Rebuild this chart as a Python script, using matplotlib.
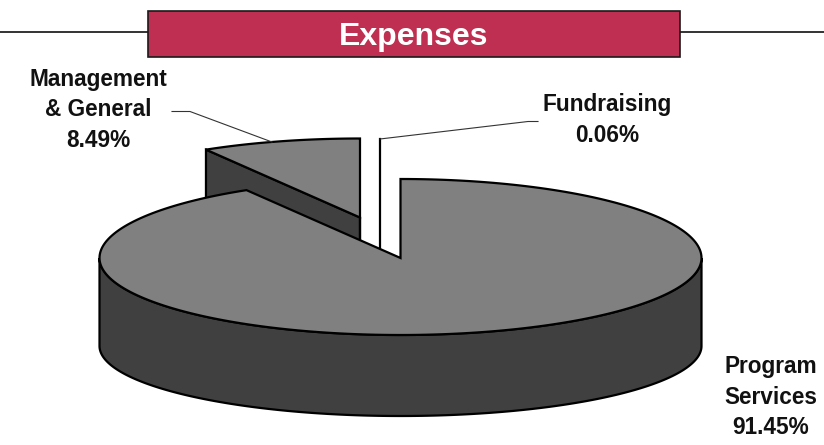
import matplotlib
matplotlib.use("Agg")
import matplotlib.pyplot as plt
from matplotlib.patches import Polygon, Rectangle
import numpy as np

plt.rcParams['font.family'] = ['Liberation Sans', 'DejaVu Sans']

title = "Expenses"
categories = ["Program\nServices", "Management\n& General", "Fundraising"]
shares = [91.45, 8.49, 0.06]

TOP = "#808080"
SIDE = "#404040"
BANNER = "#BE2F51"
RX, RY_UP, RY_DOWN = 301, 79, 77
DEPTH, RY_BOTTOM = 88, 70


def rim(cx, cy, a0, a1, n=240, ry=None):
    # angles in degrees, squashed circle, front half a bit flatter
    t = np.radians(np.linspace(a0, a1, n))
    if ry is None:
        ry = np.where(np.sin(t) > 0, RY_UP, RY_DOWN)
    return np.column_stack([cx + RX * np.cos(t), cy - ry * np.sin(t)])


def top_face(ax, cx, cy, a0, a1, color, z):
    pts = np.vstack([[cx, cy], rim(cx, cy, a0, a1)])
    ax.add_patch(Polygon(pts, closed=True, fc=color, ec="black", lw=1.6, joinstyle="miter", zorder=z))


fig = plt.figure(figsize=(8.24, 4.45), dpi=100)
ax = fig.add_axes([0, 0, 1, 1])
ax.set_xlim(0, 824)
ax.set_ylim(445, 0)
ax.axis("off")

# slices go clockwise from 12 o'clock
deg = np.array(shares) / sum(shares) * 360
main_end = 90 - deg[0]
mgmt_a1 = main_end + 360

# management slice, pulled out up and left
mx, my = 360, 217.5
cut = np.vstack([[mx, my], rim(mx, my, mgmt_a1, mgmt_a1, 1)])
side = np.vstack([cut, cut[::-1] + [0, DEPTH]])
ax.add_patch(Polygon(side, closed=True, fc=SIDE, ec="black", lw=1.6, zorder=1))
ax.plot([mx, mx], [my, my + DEPTH], color="black", lw=1.6, zorder=1)
top_face(ax, mx, my, 90, mgmt_a1, TOP, 2)

# fundraising is only a sliver
fx = 380
ax.plot([fx, fx], [my - RY_UP, my + DEPTH], color="black", lw=1.6, zorder=1)

# program services
cx, cy = 400.5, 258
lower = rim(cx, cy, 180, 360)
bottom = rim(cx, cy + DEPTH, 360, 180, ry=RY_BOTTOM)
ax.add_patch(Polygon(np.vstack([lower, bottom]), closed=True,
                     fc=SIDE, ec="black", lw=1.6, zorder=3))
top_face(ax, cx, cy, main_end, 90, TOP, 4)

# banner and rule
ax.plot([0, 824], [32, 32], color="#333333", lw=1.4, zorder=0)
ax.add_patch(Rectangle((148, 10.5), 532, 46.5, fc=BANNER, ec="#1a1a1a", lw=1.2, zorder=5))
ax.text(414, 37, title, color="white", fontsize=23, fontweight="bold", ha="center", va="center", zorder=6)

# leaders
ax.plot([172, 190, 272], [111.5, 111.5, 142], color="#333333", lw=0.8, zorder=6)
ax.plot([538, 528, 380], [121.5, 121.5, 139], color="#333333", lw=0.8, zorder=6)

# labels
lab = dict(fontsize=16.3, fontweight="bold", ha="center", va="center", linespacing=1.4, color="#111111")
ax.text(98, 110, categories[1] + "\n%.2f%%" % shares[1], **lab)
ax.text(607, 120, categories[2] + "\n%.2f%%" % shares[2], **lab)
ax.text(771, 397, categories[0] + "\n%.2f%%" % shares[0], **lab)

fig.savefig("out.png", dpi=100)
